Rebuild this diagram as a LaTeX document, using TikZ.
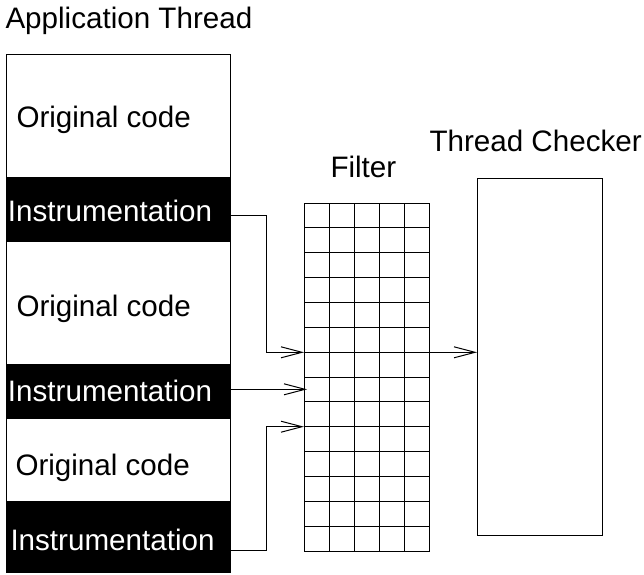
\documentclass[tikz,border=0pt]{standalone}
\usepackage{fontspec}
\setmainfont{Liberation Sans}
\usetikzlibrary{arrows.meta}
\begin{document}
\begin{tikzpicture}[x=1pt,y=-1pt,line width=1pt,
  lbl/.style={anchor=base west,inner sep=0pt,font=\fontsize{29.6}{30}\selectfont},
  band/.style={draw,minimum width=224pt,inner sep=0pt,anchor=north west},
  instr/.style={band,fill=black},
  arr/.style={-{Straight Barb[length=21pt,width=11pt,line width=1pt]}}]
\useasboundingbox (0,0) rectangle (644,574);
% left column bands
\node[band,minimum height=123pt] (orig1) at (6,54) {};
\node[instr,minimum height=64pt] (instr1) at (6,177) {};
\node[band,minimum height=123pt] (orig2) at (6,241) {};
\node[instr,minimum height=54pt] (instr2) at (6,364) {};
\node[band,minimum height=83pt] (orig3) at (6,418) {};
\node[instr,minimum height=71pt] (instr3) at (6,501) {};
% texts
\node[lbl] (tApp) at (5,28) {Application Thread};
\node[lbl] (tO1) at (16,127) {Original code};
\node[lbl,text=white] (tI1) at (7.5,221.7) {Instrumentation};
\node[lbl] (tO2) at (16,316) {Original code};
\node[lbl,text=white] (tI2) at (7.5,401.7) {Instrumentation};
\node[lbl] (tO3) at (15,475) {Original code};
\node[lbl,text=white] (tI3) at (10,550.7) {Instrumentation};
\node[lbl] (tF) at (330,177.3) {Filter};
\node[lbl] (tC) at (429,151.7) {Thread Checker};
% filter grid
\node[draw,minimum width=125pt,minimum height=348pt,inner sep=0pt,anchor=north west] (filter) at (304,203) {};
\foreach \i in {1,...,4} \draw (304+25*\i,203) -- (304+25*\i,551);
\foreach \j in {1,...,13} \draw (304,203+348/14*\j) -- (429,203+348/14*\j);
% thread checker
\node[draw,minimum width=125pt,minimum height=357pt,inner sep=0pt,anchor=north west] (checker) at (477,178) {};
% connectors
\coordinate (s1) at (230,215.3);
\coordinate (s2) at (230,389.3);
\coordinate (s3) at (230,550);
\draw[arr] (s1) -- (266.7,215.3) |- (filter.west |- 0,352.3);
\draw[arr] (s2) -- ([xshift=3pt]filter.west |- s2);
\draw[arr] (s3) -- (266.7,550) |- (filter.west |- 0,426.7);
\draw[arr] (filter.east |- 0,352.3) -- (checker.west |- 0,352.3);
\end{tikzpicture}
\end{document}
